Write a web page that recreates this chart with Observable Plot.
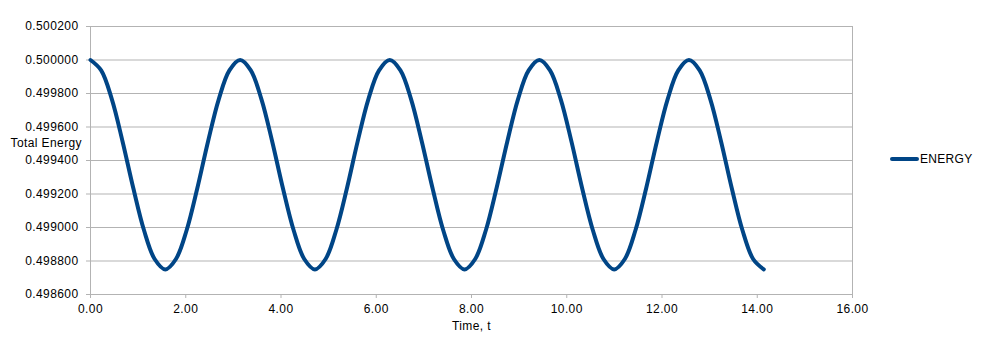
<!DOCTYPE html>
<html>
<head>
<meta charset="utf-8">
<script src="https://cdn.jsdelivr.net/npm/d3@7"></script>
<script src="https://cdn.jsdelivr.net/npm/@observablehq/plot@0.6"></script>
<style>
  html, body { margin: 0; padding: 0; background: #fff; }
  #wrap { position: relative; width: 983px; height: 339px; font-family: "Liberation Sans", Arial, sans-serif; }
  #legend { position: absolute; left: 890px; top: 152px; display: flex; align-items: center; font-size: 12px; letter-spacing: 0.3px; color: #000; }
  #legend .sw { width: 29px; height: 4px; background: #004586; border-radius: 2px; margin-right: 1px; }
</style>
</head>
<body>
<div id="wrap"><div id="legend"><div class="sw"></div><span>ENERGY</span></div></div>
<script>
const seriesName = "ENERGY";
const time = [
  0.000, 0.224, 0.449, 0.673, 0.898, 1.122, 1.346, 1.571, 1.795, 2.020, 2.244, 2.468, 2.693, 2.917,
  3.142, 3.366, 3.590, 3.815, 4.039, 4.264, 4.488, 4.712, 4.937, 5.161, 5.386, 5.610, 5.834, 6.059,
  6.283, 6.508, 6.732, 6.956, 7.181, 7.405, 7.630, 7.854, 8.078, 8.303, 8.527, 8.752, 8.976, 9.200,
  9.425, 9.649, 9.874, 10.098, 10.322, 10.547, 10.771, 10.996, 11.220, 11.444, 11.669, 11.893, 12.118, 12.342,
  12.566, 12.791, 13.015, 13.240, 13.464, 13.688, 13.913, 14.137
];
const energy = [
  0.500000, 0.499938, 0.499765, 0.499514, 0.499236, 0.498985, 0.498812, 0.498750, 0.498812, 0.498985, 0.499236, 0.499514, 0.499765, 0.499938,
  0.500000, 0.499938, 0.499765, 0.499514, 0.499236, 0.498985, 0.498812, 0.498750, 0.498812, 0.498985, 0.499236, 0.499514, 0.499765, 0.499938,
  0.500000, 0.499938, 0.499765, 0.499514, 0.499236, 0.498985, 0.498812, 0.498750, 0.498812, 0.498985, 0.499236, 0.499514, 0.499765, 0.499938,
  0.500000, 0.499938, 0.499765, 0.499514, 0.499236, 0.498985, 0.498812, 0.498750, 0.498812, 0.498985, 0.499236, 0.499514, 0.499765, 0.499938,
  0.500000, 0.499938, 0.499765, 0.499514, 0.499236, 0.498985, 0.498812, 0.498750
];
const xTicks = [0, 2, 4, 6, 8, 10, 12, 14, 16];
const yTicks = [0.4986, 0.4988, 0.4990, 0.4992, 0.4994, 0.4996, 0.4998, 0.5000, 0.5002];
const xTitle = "Time, t";
const yTitle = "Total Energy";

const data = time.map((t, i) => ({t, e: energy[i]}));
const grid = "#b3b3b3";

const chart = Plot.plot({
  width: 983,
  height: 339,
  marginLeft: 90,
  marginRight: 131,
  marginTop: 26,
  marginBottom: 45,
  style: {fontFamily: "'Liberation Sans', Arial, sans-serif", fontSize: "12px", color: "#000", background: "#fff", letterSpacing: "0.4px"},
  x: {domain: [0, 16]},
  y: {domain: [0.4986, 0.5002]},
  marks: [
    Plot.ruleY(yTicks, {stroke: grid, strokeWidth: 1}),
    Plot.ruleX([xTicks[0], xTicks[xTicks.length - 1]], {stroke: grid, strokeWidth: 1}),
    Plot.axisY({ticks: yTicks, tickFormat: d3.format(".6f"), tickSize: 4, tickPadding: 8, stroke: grid, label: null}),
    Plot.axisX({ticks: xTicks, tickFormat: d3.format(".2f"), tickSize: 4, tickPadding: 6, stroke: grid, label: null}),
    Plot.text([xTitle], {frameAnchor: "bottom", dy: 35, fontSize: 12, fill: "#000"}),
    Plot.text([yTitle], {frameAnchor: "left", dx: -80, dy: -17, textAnchor: "start", fontSize: 12, fill: "#000"}),
    Plot.line(data, {x: "t", y: "e", curve: "catmull-rom", stroke: "#004586", strokeWidth: 4, strokeLinejoin: "round", strokeLinecap: "round"})
  ]
});
document.getElementById("wrap").prepend(chart);
chart.style.position = "absolute";
chart.style.left = "0";
chart.style.top = "0";
</script>
</body>
</html>
